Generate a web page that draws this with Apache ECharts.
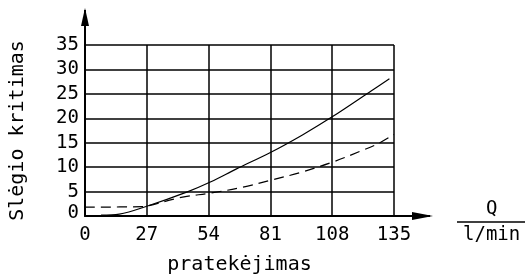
<!DOCTYPE html>
<html>
<head>
<meta charset="utf-8">
<script src="https://cdn.jsdelivr.net/npm/echarts@6/dist/echarts.min.js"></script>
<style>
  html, body { margin: 0; padding: 0; background: #fff; }
  #chart { width: 525px; height: 280px; }
</style>
</head>
<body>
<div id="chart"></div>
<script>
// ašių žymės
var xTicks = [0, 27, 54, 81, 108, 135];
var yTicks = [0, 5, 10, 15, 20, 25, 30, 35];

// ištisinė kreivė [Q, slėgis]
var solidLine = [
  [7, 0.2], [15, 0.4], [27, 2.0], [45, 5.0], [55, 7.0], [66, 9.6],
  [81, 13.0], [95, 16.6], [108, 20.3], [125, 25.6], [133, 28.1]
];

// brūkšninė kreivė [Q, slėgis]
var dashedLine = [
  [0, 1.8], [25, 1.9], [27, 2.0], [42, 3.8], [55, 4.7], [69, 5.9],
  [81, 7.3], [94, 8.9], [108, 11.0], [120, 13.2], [128, 14.8], [135, 16.7]
];

var font = 'DejaVu Sans Mono';

var chart = echarts.init(document.getElementById('chart'));

var option = {
  animation: false,
  backgroundColor: '#fff',
  grid: { left: 83, right: 131, top: 45, bottom: 54 },
  xAxis: {
    type: 'value',
    min: xTicks[0],
    max: xTicks[xTicks.length - 1],
    interval: xTicks[1] - xTicks[0],
    name: 'pratekėjimas',
    nameLocation: 'middle',
    nameGap: 39,
    nameTextStyle: { color: '#000', fontFamily: font, fontSize: 20 },
    axisLine: { lineStyle: { color: '#000', width: 2 } },
    axisTick: { show: false },
    axisLabel: { color: '#000', fontFamily: font, fontSize: 19, margin: 10 },
    splitLine: { show: true, lineStyle: { color: '#000', width: 1.5 } }
  },
  yAxis: {
    type: 'value',
    min: yTicks[0],
    max: yTicks[yTicks.length - 1],
    interval: yTicks[1] - yTicks[0],
    name: 'Slėgio kritimas',
    nameLocation: 'middle',
    nameRotate: 90,
    nameGap: 57,
    nameTextStyle: { color: '#000', fontFamily: font, fontSize: 20 },
    axisLine: { lineStyle: { color: '#000', width: 2 } },
    axisTick: { show: false },
    axisLabel: {
      color: '#000', fontFamily: font, fontSize: 19, margin: 6,
      showMinLabel: true,
      hideOverlap: false,
      formatter: function (v) { return v === 0 ? '{z|0}' : String(v); },
      rich: { z: { fontFamily: font, fontSize: 19, color: '#000', padding: [0, 0, 6, 0] } }
    },
    splitLine: { show: true, lineStyle: { color: '#000', width: 1.5 } }
  },
  series: [
    {
      type: 'line',
      data: solidLine,
      smooth: 0.35,
      symbol: 'none',
      lineStyle: { color: '#000', width: 1.2 }
    },
    {
      type: 'line',
      data: dashedLine,
      smooth: 0.35,
      symbol: 'none',
      lineStyle: { color: '#000', width: 1.2, type: [10, 6] }
    }
  ]
};

chart.setOption(option);

// ašių tęsiniai su rodyklėmis
var origin = chart.convertToPixel({ gridIndex: 0 }, [0, 0]);
var yTop = chart.convertToPixel({ gridIndex: 0 }, [0, 35]);
var xEnd = chart.convertToPixel({ gridIndex: 0 }, [135, 0]);

chart.setOption({
  graphic: [
    {
      type: 'line',
      shape: { x1: origin[0], y1: yTop[1], x2: origin[0], y2: 10 },
      style: { stroke: '#000', lineWidth: 2 }
    },
    {
      type: 'polygon',
      shape: { points: [[origin[0], 8], [origin[0] + 4, 26], [origin[0] - 4, 26]] },
      style: { fill: '#000' }
    },
    {
      type: 'line',
      shape: { x1: xEnd[0], y1: origin[1], x2: 430, y2: origin[1] },
      style: { stroke: '#000', lineWidth: 2 }
    },
    {
      type: 'polygon',
      shape: { points: [[433, origin[1]], [412, origin[1] - 4], [412, origin[1] + 4]] },
      style: { fill: '#000' }
    },
    // Q / l/min trupmena
    {
      type: 'text',
      left: 486, top: 200,
      style: { text: 'Q', fill: '#000', font: '19px ' + font }
    },
    {
      type: 'line',
      shape: { x1: 457, y1: 222, x2: 525, y2: 222 },
      style: { stroke: '#000', lineWidth: 1.5 }
    },
    {
      type: 'text',
      left: 463, top: 226,
      style: { text: 'l/min', fill: '#000', font: '19px ' + font }
    }
  ]
});
</script>
</body>
</html>
